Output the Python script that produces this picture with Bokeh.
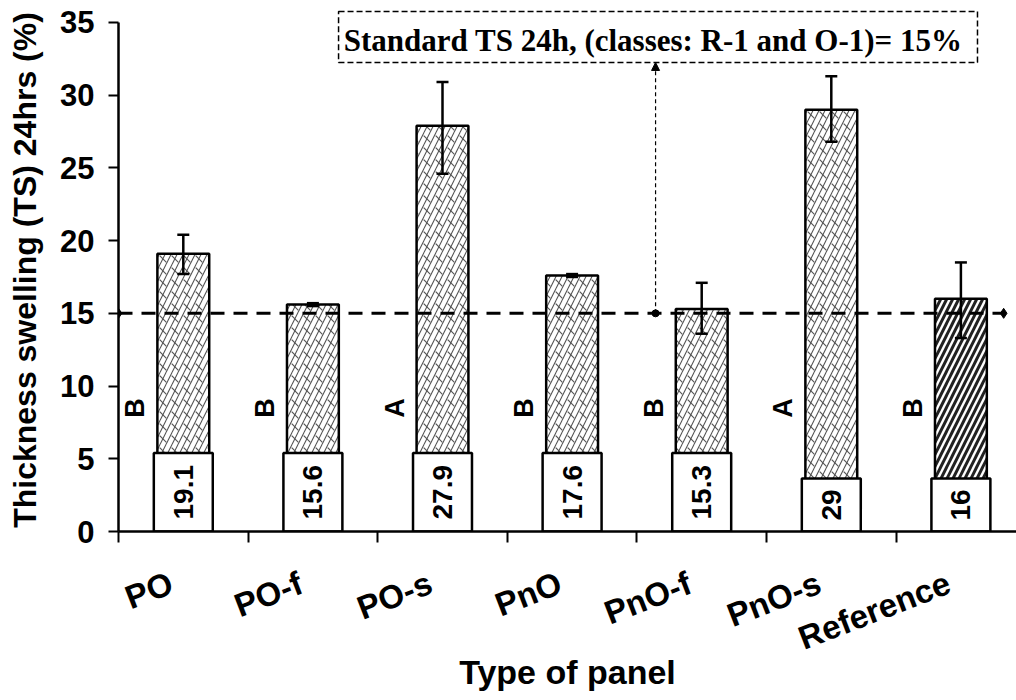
import math
from bokeh.plotting import figure
from bokeh.models import (Range1d, FixedTicker, Whisker, TeeHead, ColumnDataSource,
                          Arrow, NormalHead)
from bokeh.core.properties import value
from bokeh.embed import file_html
from bokeh.resources import INLINE

# ---------------- data ----------------
categories = ["PO", "PO-f", "PO-s", "PnO", "PnO-f", "PnO-s", "Reference"]
ts_mean = [19.1, 15.6, 27.9, 17.6, 15.3, 29.0, 16.0]
ts_upper = [20.4, 15.7, 30.9, 17.7, 17.1, 31.3, 18.5]
ts_lower = [17.7, 15.5, 24.6, 17.5, 13.6, 26.8, 13.3]
groups = ["B", "B", "A", "B", "B", "A", "B"]
value_labels = ["19.1", "15.6", "27.9", "17.6", "15.3", "29", "16"]
y_ticks = [0, 5, 10, 15, 20, 25, 30, 35]
standard_ts = 15
standard_text = "Standard TS 24h, (classes: R-1 and O-1)= 15%"
x_title = "Type of panel"
y_title = "Thickness swelling (TS) 24hrs (%)"

# ---------------- layout constants ----------------
W, H = 1016, 700
X_END = (W - 118) / 129.6
Y_END = 35.96
BAR_W = 0.40
BOX_W = 0.455
SANS = value("Liberation Sans")
SERIF = value("Liberation Serif")

n = len(categories)
centers = [i + 0.5 for i in range(n)]
box_tops = [5.4 if len(s) > 2 else 3.65 for s in value_labels]

p = figure(width=W, height=H, output_backend="svg", toolbar_location=None,
           x_range=Range1d(0, X_END), y_range=Range1d(0, Y_END),
           min_border_left=118, min_border_right=0, min_border_top=8,
           min_border_bottom=169)
p.xgrid.visible = False
p.ygrid.visible = False
p.outline_line_color = None
p.background_fill_color = "white"

# brick-patterned bars (all but the reference)
brick = ColumnDataSource(dict(x=centers[:-1], top=ts_mean[:-1]))
p.vbar(x="x", top="top", bottom=0, width=BAR_W, source=brick,
       fill_color="white", line_color=None,
       hatch_pattern="/", hatch_color="#555555", hatch_weight=1.1, hatch_scale=12)
p.vbar(x="x", top="top", bottom=0, width=BAR_W, source=brick,
       fill_color=None, line_color="black", line_width=2.5,
       hatch_pattern="`", hatch_color="#555555", hatch_weight=1.1, hatch_scale=12)

# reference bar (diagonal stripes)
ref = ColumnDataSource(dict(x=centers[-1:], top=ts_mean[-1:]))
p.vbar(x="x", top="top", bottom=0, width=BAR_W, source=ref,
       fill_color="white", line_color="black", line_width=2.5,
       hatch_pattern="/", hatch_color="#222222", hatch_weight=3, hatch_scale=12)

# value boxes
boxes = ColumnDataSource(dict(x=centers, top=box_tops,
                              ymid=[t / 2 for t in box_tops], label=value_labels))
p.vbar(x="x", top="top", bottom=0, width=BOX_W, source=boxes,
       fill_color="white", line_color="black", line_width=2.5)
p.text(x="x", y="ymid", text="label", source=boxes, angle=math.pi / 2,
       text_align="center", text_baseline="middle", text_font=SANS,
       text_font_style="bold", text_font_size="28px", text_color="black")

# group letters
p.text(x=[c - 0.37 for c in centers], y=[8.5] * n, text=groups, angle=math.pi / 2,
       text_align="center", text_baseline="middle", text_font=SANS,
       text_font_style="bold", text_font_size="27px", text_color="black")

# error bars
err = ColumnDataSource(dict(x=centers, upper=ts_upper, lower=ts_lower))
wh = Whisker(base="x", upper="upper", lower="lower", source=err,
             line_width=2.5, line_color="black", level="overlay",
             upper_head=TeeHead(size=12, line_width=2.5, line_color="black"),
             lower_head=TeeHead(size=12, line_width=2.5, line_color="black"))
p.add_layout(wh)

# standard line
LINE_END = 6.83
p.line(x=[0, LINE_END], y=[standard_ts, standard_ts], line_color="black",
       line_width=3, line_dash="14 9")
p.scatter(x=[0, LINE_END], y=[standard_ts, standard_ts], marker="diamond",
          size=10, color="black")

# annotation box + arrow
BOX_L, BOX_R, BOX_B, BOX_T = 1.698, 6.628, 32.25, 35.76
ARROW_X = 4.144
p.scatter(x=[ARROW_X], y=[standard_ts], marker="circle", size=7, color="black")
p.add_layout(Arrow(x_start=ARROW_X, y_start=standard_ts, x_end=ARROW_X, y_end=BOX_B,
                   line_dash="4 3", line_width=1.2, line_color="black",
                   end=NormalHead(size=8, fill_color="black", line_color="black",
                                  line_width=1)))
p.quad(left=[BOX_L], right=[BOX_R], bottom=[BOX_B], top=[BOX_T], fill_color=None,
       line_color="black", line_width=1.5, line_dash="6 3")
p.text(x=[BOX_L + 0.04], y=[33.76], text=[standard_text], text_align="left",
       text_baseline="alphabetic", text_font=SERIF, text_font_style="bold",
       text_font_size="31px", text_color="black")

# ---------------- axes ----------------
label_pos = [i + 0.40625 for i in range(n)]
xa = p.xaxis[0]
xa.ticker = FixedTicker(ticks=label_pos, minor_ticks=list(range(n)))
xa.major_label_overrides = {t: c for t, c in zip(label_pos, categories)}
xa.major_label_orientation = 0.37
xa.axis_line_width = 2.5
xa.major_tick_out = 0
xa.major_tick_in = 0
xa.minor_tick_out = 11
xa.minor_tick_in = 0
xa.minor_tick_line_width = 2
xa.minor_tick_line_color = "black"
xa.major_label_standoff = 39
xa.major_label_text_font = "Liberation Sans"
xa.major_label_text_font_style = "bold"
xa.major_label_text_font_size = "33px"
xa.major_label_text_color = "black"
xa.axis_label = x_title
xa.axis_label_text_font = "Liberation Sans"
xa.axis_label_text_font_style = "bold"
xa.axis_label_text_font_size = "34px"
xa.axis_label_text_color = "black"
xa.axis_label_standoff = -24

ya = p.yaxis[0]
ya.ticker = FixedTicker(ticks=y_ticks, minor_ticks=[])
ya.bounds = (0, 35)
ya.axis_line_width = 2.5
ya.major_tick_out = 10
ya.major_tick_in = 0
ya.major_tick_line_width = 2
ya.minor_tick_out = 0
ya.minor_tick_in = 0
ya.major_label_standoff = 14
ya.major_label_text_font = "Liberation Sans"
ya.major_label_text_font_style = "bold"
ya.major_label_text_font_size = "31px"
ya.major_label_text_color = "black"
ya.axis_label = y_title
ya.axis_label_text_font = "Liberation Sans"
ya.axis_label_text_font_style = "bold"
ya.axis_label_text_font_size = "32px"
ya.axis_label_text_color = "black"
ya.axis_label_standoff = 14

open("out.html", "w").write(file_html(p, INLINE))
